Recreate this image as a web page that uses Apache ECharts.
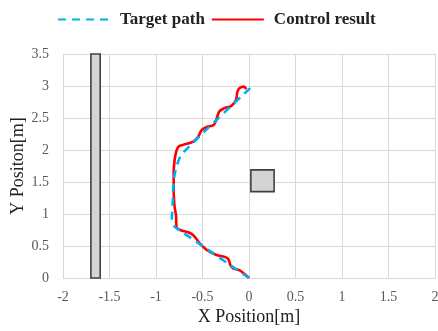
<!DOCTYPE html>
<html>
<head>
<meta charset="utf-8">
<script src="https://cdn.jsdelivr.net/npm/echarts@6/dist/echarts.min.js"></script>
<style>
html,body{margin:0;padding:0;background:#fff;}
#chart{width:438px;height:331px;}
</style>
</head>
<body>
<div id="chart"></div>
<script>
// Target path (x, y) in metres
var targetPath = [
  [0.00, 0.00], [-0.74, 0.74], [-0.80, 0.80], [-0.83, 0.90], [-0.82, 1.20],
  [-0.81, 1.52], [-0.78, 1.74], [-0.72, 1.94], [0.03, 2.99]
];
// Control result (x, y) in metres
var controlResult = [
  [0.00, 0.00], [-0.04, 0.05], [-0.10, 0.12], [-0.17, 0.15], [-0.20, 0.20],
  [-0.22, 0.29], [-0.26, 0.33], [-0.35, 0.36], [-0.455, 0.44], [-0.53, 0.54],
  [-0.58, 0.64], [-0.63, 0.70], [-0.74, 0.75], [-0.78, 0.80], [-0.785, 0.98],
  [-0.80, 1.11], [-0.81, 1.375], [-0.81, 1.64], [-0.80, 1.84], [-0.785, 1.96],
  [-0.76, 2.05], [-0.71, 2.08], [-0.60, 2.13], [-0.545, 2.21], [-0.51, 2.31],
  [-0.455, 2.36], [-0.38, 2.39], [-0.35, 2.48], [-0.32, 2.60], [-0.27, 2.65],
  [-0.19, 2.69], [-0.14, 2.78], [-0.125, 2.91], [-0.10, 2.97], [-0.055, 2.99],
  [-0.03, 2.95]
];
// Obstacles: [xMin, yMin, xMax, yMax]
var obstacles = [
  [-1.70, 0.00, -1.60, 3.50],
  [0.02, 1.35, 0.27, 1.69]
];
var xTicks = { min: -2, max: 2, interval: 0.5 };
var yTicks = { min: 0, max: 3.5, interval: 0.5 };
var seriesNames = ['Target path', 'Control result'];

var chart = echarts.init(document.getElementById('chart'), null, {renderer: 'canvas'});
var serif = '"Liberation Serif", "Times New Roman", serif';
chart.setOption({
  animation: false,
  backgroundColor: '#ffffff',
  legend: {
    data: seriesNames,
    top: 6,
    left: 52,
    itemWidth: 52,
    itemHeight: 14,
    itemGap: 6,
    itemStyle: { opacity: 0 },
    textStyle: { fontFamily: serif, fontWeight: 'bold', fontSize: 17, color: '#222', padding: [0, 0, 0, 5] }
  },
  grid: { left: 63, right: 3, top: 54, bottom: 53, outerBoundsMode: 'none', containLabel: false },
  xAxis: {
    type: 'value', min: xTicks.min, max: xTicks.max, interval: xTicks.interval,
    name: 'X Position[m]', nameLocation: 'middle', nameGap: 30, nameMoveOverlap: false,
    nameTextStyle: { fontFamily: serif, fontSize: 18, color: '#222' },
    axisLine: { show: true, lineStyle: { color: '#d9d9d9', width: 1 } },
    axisTick: { show: false },
    splitLine: { show: true, lineStyle: { color: '#d9d9d9', width: 1 } },
    axisLabel: { fontFamily: serif, fontSize: 14, color: '#595959', margin: 12 }
  },
  yAxis: {
    type: 'value', min: yTicks.min, max: yTicks.max, interval: yTicks.interval,
    name: 'Y Positon[m]', nameLocation: 'middle', nameGap: 36, nameMoveOverlap: false,
    nameTextStyle: { fontFamily: serif, fontSize: 18, color: '#222' },
    axisLine: { show: true, lineStyle: { color: '#d9d9d9', width: 1 } },
    axisTick: { show: false },
    splitLine: { show: true, lineStyle: { color: '#d9d9d9', width: 1 } },
    axisLabel: { fontFamily: serif, fontSize: 14, color: '#595959', margin: 14 }
  },
  series: [
    {
      type: 'custom',
      name: 'obstacles',
      z: 1,
      data: obstacles,
      encode: { x: [0, 2], y: [1, 3] },
      renderItem: function (params, api) {
        var p1 = api.coord([api.value(0), api.value(3)]);
        var p2 = api.coord([api.value(2), api.value(1)]);
        return {
          type: 'rect',
          shape: { x: p1[0], y: p1[1], width: p2[0] - p1[0], height: p2[1] - p1[1] },
          style: { fill: '#d4d4d4', stroke: '#404040', lineWidth: 1.6 }
        };
      }
    },
    {
      name: seriesNames[1],
      type: 'line',
      z: 3,
      data: controlResult,
      symbol: 'none',
      smooth: 0.35,
      lineStyle: { color: '#ff0000', width: 2.6 },
      itemStyle: { color: '#ff0000' }
    },
    {
      name: seriesNames[0],
      type: 'line',
      z: 4,
      data: targetPath,
      symbol: 'none',
      smooth: 0.25,
      lineStyle: { color: '#00b0f0', width: 2.6, type: [8, 6] },
      itemStyle: { color: '#00b0f0' }
    }
  ]
});
</script>
</body>
</html>
